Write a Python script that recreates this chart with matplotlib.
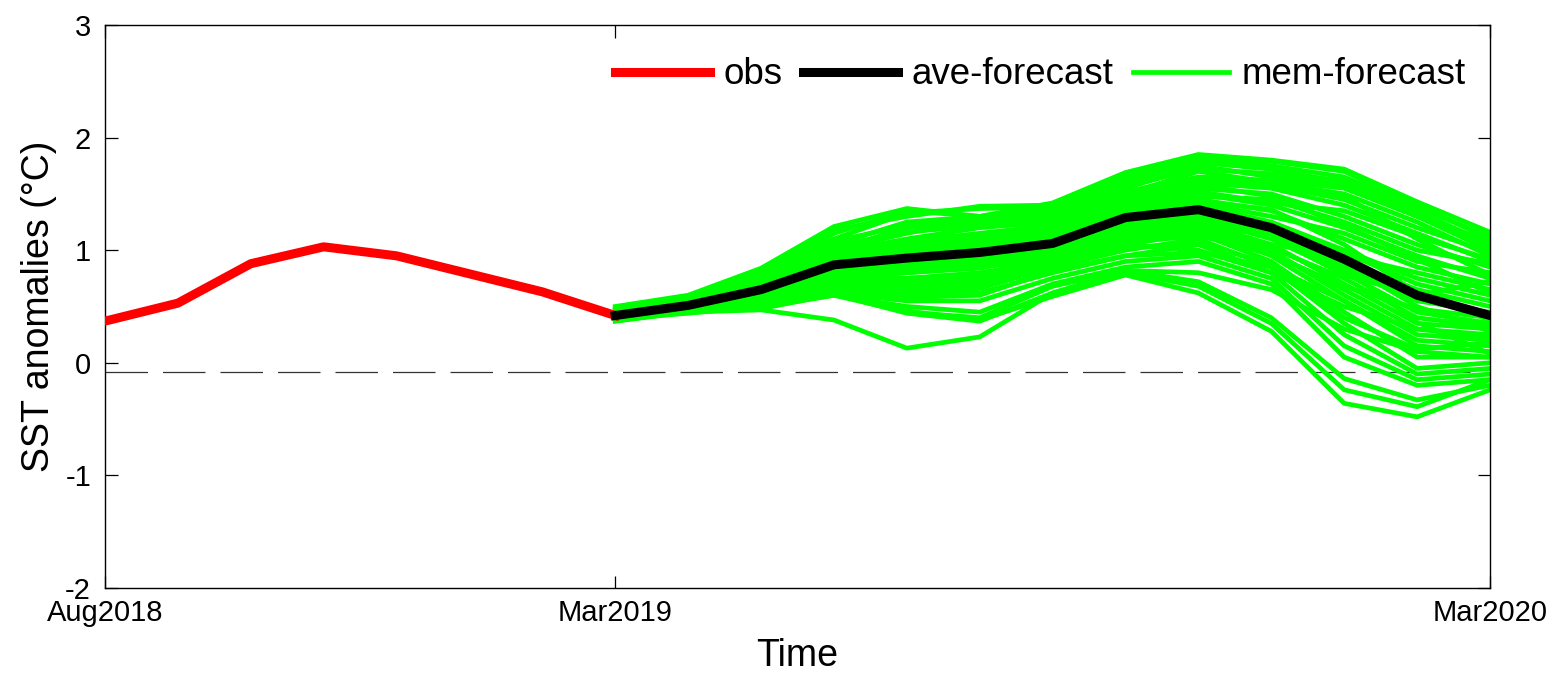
import matplotlib
matplotlib.use("Agg")
import matplotlib.pyplot as plt

plt.rcParams["font.family"] = ["Liberation Sans", "DejaVu Sans"]
plt.rcParams["axes.unicode_minus"] = False

# months counted from Aug2018 (0) to Mar2020 (19)
tick_pos = [0, 7, 19]
tick_labels = ["Aug2018", "Mar2019", "Mar2020"]

obs_months = list(range(0, 8))
obs = [0.37, 0.53, 0.88, 1.03, 0.95, 0.79, 0.63, 0.42]

fc_months = list(range(7, 20))
ave_forecast = [0.42, 0.51, 0.65, 0.87, 0.93, 0.98, 1.06, 1.29, 1.36, 1.20, 0.92, 0.60, 0.42]

# ensemble members, Mar2019 .. Mar2020
members = [
    [0.50, 0.60, 0.84, 1.21, 1.37, 1.30, 1.42, 1.69, 1.85, 1.80, 1.72, 1.43, 1.16],
    [0.48, 0.58, 0.80, 1.18, 1.30, 1.39, 1.40, 1.66, 1.82, 1.79, 1.70, 1.40, 1.10],
    [0.47, 0.56, 0.78, 1.10, 1.33, 1.37, 1.38, 1.60, 1.78, 1.72, 1.60, 1.35, 1.05],
    [0.46, 0.55, 0.75, 1.05, 1.25, 1.30, 1.35, 1.55, 1.75, 1.65, 1.58, 1.30, 1.00],
    [0.45, 0.53, 0.72, 1.00, 1.20, 1.25, 1.30, 1.50, 1.70, 1.60, 1.50, 1.25, 0.95],
    [0.44, 0.52, 0.70, 0.98, 1.10, 1.20, 1.25, 1.45, 1.60, 1.55, 1.40, 1.15, 0.90],
    [0.43, 0.52, 0.68, 0.95, 1.05, 1.12, 1.20, 1.40, 1.55, 1.50, 1.30, 1.05, 0.85],
    [0.42, 0.51, 0.67, 0.92, 1.00, 1.05, 1.15, 1.38, 1.50, 1.40, 1.20, 0.95, 0.75],
    [0.42, 0.50, 0.66, 0.90, 0.95, 1.00, 1.10, 1.35, 1.45, 1.35, 1.10, 0.85, 0.70],
    [0.41, 0.50, 0.65, 0.88, 0.92, 0.98, 1.05, 1.30, 1.40, 1.25, 1.00, 0.75, 0.60],
    [0.41, 0.49, 0.64, 0.85, 0.90, 0.95, 1.02, 1.25, 1.35, 1.20, 0.90, 0.65, 0.50],
    [0.40, 0.49, 0.63, 0.82, 0.88, 0.92, 1.00, 1.22, 1.30, 1.15, 0.85, 0.55, 0.45],
    [0.40, 0.48, 0.62, 0.80, 0.85, 0.90, 0.98, 1.20, 1.28, 1.10, 0.80, 0.45, 0.35],
    [0.39, 0.48, 0.61, 0.78, 0.82, 0.88, 0.95, 1.18, 1.25, 1.05, 0.70, 0.35, 0.30],
    [0.39, 0.47, 0.60, 0.75, 0.80, 0.85, 0.92, 1.15, 1.22, 1.00, 0.60, 0.25, 0.20],
    [0.38, 0.47, 0.58, 0.72, 0.75, 0.80, 0.90, 1.10, 1.20, 0.95, 0.55, 0.15, 0.10],
    [0.38, 0.46, 0.56, 0.70, 0.70, 0.75, 0.88, 1.05, 1.15, 0.90, 0.45, 0.05, 0.05],
    [0.37, 0.46, 0.55, 0.68, 0.65, 0.70, 0.85, 1.00, 1.10, 0.85, 0.35, -0.05, 0.00],
    [0.37, 0.45, 0.53, 0.65, 0.60, 0.62, 0.80, 0.95, 1.05, 0.80, 0.25, -0.10, -0.05],
    [0.38, 0.45, 0.52, 0.62, 0.55, 0.55, 0.75, 0.90, 0.95, 0.75, 0.15, -0.15, -0.10],
    [0.39, 0.44, 0.50, 0.60, 0.50, 0.45, 0.70, 0.85, 0.90, 0.70, 0.05, -0.20, -0.15],
    [0.40, 0.45, 0.49, 0.60, 0.45, 0.40, 0.68, 0.82, 0.72, 0.40, -0.14, -0.33, -0.20],
    [0.41, 0.46, 0.48, 0.61, 0.44, 0.37, 0.62, 0.80, 0.68, 0.35, -0.24, -0.39, -0.15],
    [0.42, 0.47, 0.50, 0.62, 0.46, 0.38, 0.59, 0.78, 0.62, 0.28, -0.36, -0.48, -0.24],
    [0.40, 0.45, 0.47, 0.38, 0.13, 0.23, 0.62, 0.82, 0.80, 0.65, 0.30, 0.10, 0.05],
    [0.44, 0.53, 0.75, 1.15, 1.35, 1.30, 1.40, 1.62, 1.80, 1.75, 1.65, 1.38, 1.12],
    [0.43, 0.51, 0.70, 1.00, 1.15, 1.28, 1.33, 1.52, 1.65, 1.62, 1.55, 1.30, 1.08],
    [0.42, 0.50, 0.66, 0.90, 1.00, 1.10, 1.25, 1.48, 1.62, 1.58, 1.45, 1.20, 0.98],
    [0.41, 0.49, 0.62, 0.80, 0.75, 0.78, 0.95, 1.15, 1.20, 1.05, 0.95, 0.80, 0.65],
    [0.40, 0.48, 0.60, 0.70, 0.62, 0.66, 0.85, 1.05, 1.00, 0.80, 0.50, 0.30, 0.25],
    [0.39, 0.47, 0.58, 0.66, 0.58, 0.60, 0.82, 0.95, 0.98, 0.85, 0.55, 0.20, 0.15],
    [0.43, 0.50, 0.64, 0.88, 0.98, 1.02, 1.08, 1.32, 1.42, 1.30, 1.15, 0.90, 0.80],
    [0.44, 0.51, 0.66, 0.86, 0.96, 1.00, 1.12, 1.36, 1.48, 1.45, 1.25, 1.00, 0.88],
    [0.41, 0.48, 0.60, 0.76, 0.70, 0.72, 0.88, 1.08, 1.12, 1.02, 0.75, 0.40, 0.32],
    [0.40, 0.47, 0.59, 0.72, 0.68, 0.74, 0.90, 1.12, 1.18, 0.98, 0.65, 0.30, 0.22],
    [0.42, 0.50, 0.63, 0.84, 0.86, 0.94, 1.00, 1.26, 1.32, 1.18, 0.98, 0.70, 0.55],
    [0.43, 0.52, 0.69, 0.96, 1.08, 1.15, 1.22, 1.44, 1.58, 1.48, 1.22, 0.92, 0.62],
    [0.42, 0.51, 0.66, 0.91, 0.97, 1.04, 1.14, 1.33, 1.44, 1.36, 1.05, 0.62, 0.38],
    [0.41, 0.49, 0.63, 0.83, 0.87, 0.93, 1.03, 1.24, 1.33, 1.22, 0.88, 0.50, 0.28],
    [0.40, 0.48, 0.61, 0.79, 0.80, 0.84, 0.96, 1.17, 1.26, 1.12, 0.78, 0.60, 0.72],
    [0.44, 0.54, 0.73, 1.04, 1.16, 1.22, 1.28, 1.47, 1.63, 1.57, 1.48, 1.10, 0.78],
    [0.45, 0.55, 0.76, 1.08, 1.22, 1.27, 1.34, 1.57, 1.72, 1.68, 1.62, 1.33, 1.02],
    [0.39, 0.47, 0.58, 0.71, 0.72, 0.78, 0.91, 1.09, 1.14, 0.96, 0.68, 0.48, 0.40],
    [0.38, 0.46, 0.57, 0.69, 0.66, 0.68, 0.84, 1.02, 1.06, 0.88, 0.40, 0.12, 0.18],
    [0.43, 0.51, 0.67, 0.93, 1.02, 1.08, 1.18, 1.42, 1.52, 1.42, 1.35, 1.12, 0.92],
    [0.41, 0.49, 0.62, 0.81, 0.84, 0.86, 0.97, 1.19, 1.27, 1.14, 0.84, 0.36, 0.08],
]

ref_level = -0.08

fig = plt.figure(figsize=(15.56, 6.79), dpi=100)
ax = fig.add_axes([105 / 1556, 1 - 588 / 679, (1490 - 105) / 1556, (588 - 25) / 679])

ax.axhline(ref_level, color="0.2", lw=0.9, dashes=(34, 12), zorder=1)

for i, m in enumerate(members):
    ax.plot(fc_months, m, color="#00ff00", lw=3.4, zorder=2,
            label="mem-forecast" if i == 0 else None)
ax.plot(obs_months, obs, color="#ff0000", lw=6.5, zorder=3, label="obs")
ax.plot(fc_months, ave_forecast, color="black", lw=6.5, zorder=4, label="ave-forecast")

ax.set_xlim(0, 19)
ax.set_ylim(-2, 3)
ax.set_xticks(tick_pos)
ax.set_xticklabels(tick_labels)
ax.set_yticks([-2, -1, 0, 1, 2, 3])

ax.tick_params(direction="in", length=9, width=0.9, top=True, right=True,
               labelsize=21, colors="black")
ax.tick_params(axis="x", pad=8)
ax.tick_params(axis="y", pad=10)
for spine in ax.spines.values():
    spine.set_linewidth(1.0)
    spine.set_color("black")

ax.set_xlabel("Time", fontsize=27, labelpad=8)
ax.set_ylabel("SST anomalies (°C)", fontsize=27, labelpad=6)

handles, labels = ax.get_legend_handles_labels()
order = [labels.index(k) for k in ["obs", "ave-forecast", "mem-forecast"]]
ax.legend([handles[k] for k in order], [labels[k] for k in order],
          loc="center right", bbox_to_anchor=(1466 / 1556, 1 - 75 / 679),
          bbox_transform=fig.transFigure, ncol=3, frameon=False,
          fontsize=26.5, handlelength=2.6, handletextpad=0.35,
          columnspacing=0.55, borderpad=0, borderaxespad=0)

fig.savefig("out.png", dpi=100)
